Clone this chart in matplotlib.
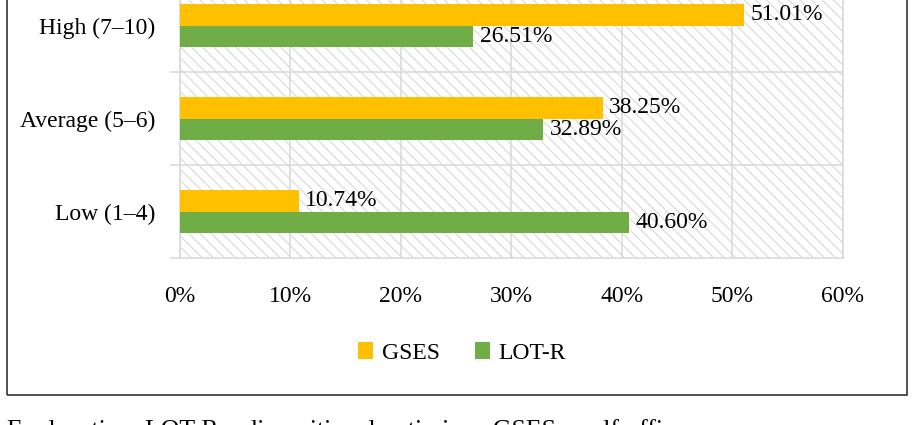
import matplotlib
matplotlib.use("Agg")
import matplotlib.pyplot as plt
from matplotlib.patches import Rectangle
from matplotlib.ticker import FixedLocator, PercentFormatter
import numpy as np

categories = ["Low (1–4)", "Average (5–6)", "High (7–10)"]
gses = [10.74, 38.25, 51.01]
lotr = [40.60, 32.89, 26.51]
series_names = ["GSES", "LOT-R"]
xticks = [0, 10, 20, 30, 40, 50, 60]
caption = "Explanation: LOT-R—dispositional optimism; GSES—self-efficacy."

plt.rcParams["font.family"] = ["Liberation Serif", "DejaVu Serif"]
plt.rcParams["hatch.linewidth"] = 0.8

W, H = 920, 425
fig = plt.figure(figsize=(W / 100, H / 100), dpi=100)

FS = 17
grid_c = "#d9d9d9"
ax_left, ax_right = 180 / W, 843 / W
ax_bot, ax_top = 1 - 258 / H, 1 + 21 / H
ax = fig.add_axes([ax_left, ax_bot, ax_right - ax_left, ax_top - ax_bot])

# hatched background
ax.set_facecolor("white")
bg = Rectangle((0, 0), 1, 1, transform=ax.transAxes, facecolor="white",
               edgecolor=grid_c, hatch="\\\\\\", linewidth=0, zorder=0)
ax.add_patch(bg)

y = np.arange(len(categories))
h = 0.226
ax.barh(y + h / 2, gses, height=h, color="#FFC000", label=series_names[0], zorder=3)
ax.barh(y - h / 2, lotr, height=h, color="#70AD47", label=series_names[1], zorder=3)

for yi, v in zip(y, gses):
    ax.text(v + 0.6, yi + h / 2, f"{v:.2f}%", va="center", ha="left", fontsize=FS, zorder=4)
for yi, v in zip(y, lotr):
    ax.text(v + 0.6, yi - h / 2, f"{v:.2f}%", va="center", ha="left", fontsize=FS, zorder=4)

ax.set_xlim(0, 60)
ax.set_ylim(-0.5, 2.5)
ax.set_xticks(xticks)
ax.xaxis.set_major_formatter(PercentFormatter(decimals=0))
ax.set_yticks(y)
ax.set_yticklabels(categories)
ax.yaxis.set_minor_locator(FixedLocator([-0.5, 0.5, 1.5, 2.5]))
ax.tick_params(axis="x", length=0, pad=20, labelsize=FS)
ax.tick_params(axis="y", which="major", length=0, pad=18, labelsize=FS)
ax.tick_params(axis="y", which="minor", length=7.2, width=1.1, color=grid_c)

ax.grid(axis="x", color=grid_c, linewidth=1.1, zorder=1)
ax.set_axisbelow(True)
for yb in [0.5, 1.5]:
    ax.axhline(yb, color=grid_c, linewidth=1.1, zorder=1)
for s in ax.spines.values():
    s.set_color(grid_c)
    s.set_linewidth(1.1)

# legend
handles, labels = ax.get_legend_handles_labels()
fig.legend(handles, labels, loc="center", bbox_to_anchor=(462 / W, 1 - 353 / H),
           ncol=2, frameon=False, fontsize=FS, handlelength=0.65, handleheight=0.7,
           handletextpad=0.35, columnspacing=1.5)

# outer border
fig.add_artist(Rectangle((7 / W, 1 - 395 / H), 900 / W, 0.2 + 395 / H,
                         transform=fig.transFigure, fill=False,
                         edgecolor="#333333", linewidth=1.2, clip_on=False))

fig.text(7 / W, 1 - 437 / H, caption, ha="left", va="baseline", fontsize=18.5)

fig.savefig("out.png", dpi=100)
